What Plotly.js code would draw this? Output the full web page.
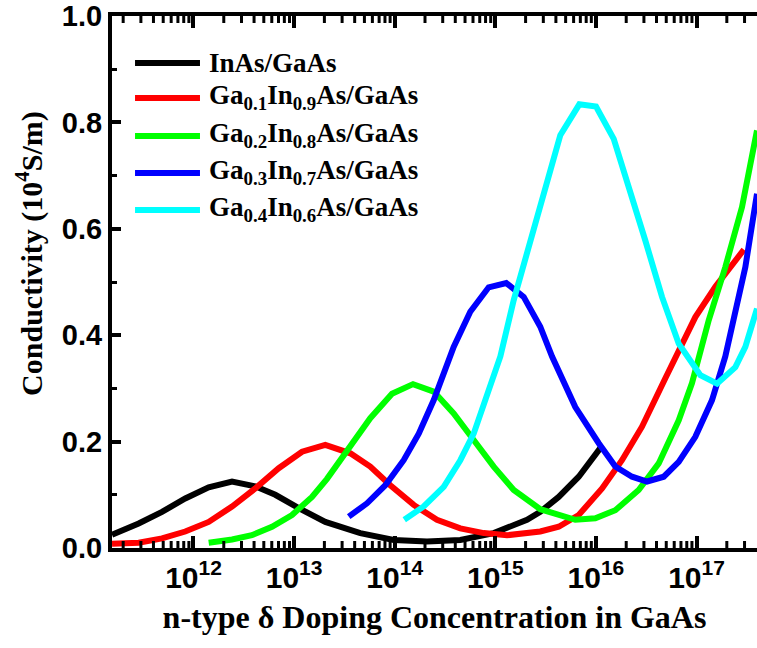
<!DOCTYPE html>
<html>
<head>
<meta charset="utf-8">
<script src="https://cdn.plot.ly/plotly-3.0.1.min.js"></script>
<style>html,body{margin:0;padding:0;background:#fff;}#chart{width:757px;height:648px;}</style>
</head>
<body>
<div id="chart"></div>
<script>
var seriesNames = [
  'InAs/GaAs',
  'Ga<sub>0.1</sub>In<sub>0.9</sub>As/GaAs',
  'Ga<sub>0.2</sub>In<sub>0.8</sub>As/GaAs',
  'Ga<sub>0.3</sub>In<sub>0.7</sub>As/GaAs',
  'Ga<sub>0.4</sub>In<sub>0.6</sub>As/GaAs'
];
var seriesColors = ['#000000', '#ff0000', '#00ff00', '#0000ff', '#00ffff'];

// Doping concentration as log10(n); conductivity in 10^4 S/m
var inasLogN = [11.19, 11.455, 11.687, 11.918, 12.151, 12.383, 12.614, 12.813, 13.046, 13.31, 13.658, 13.99, 14.321, 14.652, 14.984, 15.315, 15.447, 15.63, 15.829, 16.06];
var inasSigma = [0.025, 0.046, 0.068, 0.093, 0.114, 0.125, 0.116, 0.100, 0.075, 0.049, 0.028, 0.015, 0.012, 0.015, 0.028, 0.053, 0.068, 0.096, 0.134, 0.192];

var ga01LogN = [11.19, 11.455, 11.687, 11.918, 12.151, 12.383, 12.614, 12.847, 13.079, 13.31, 13.559, 13.757, 13.956, 14.189, 14.42, 14.652, 14.885, 15.116, 15.447, 15.63, 15.829, 16.061, 16.259, 16.458, 16.69, 16.856, 16.988, 17.187, 17.332, 17.471];
var ga01Sigma = [0.008, 0.010, 0.018, 0.031, 0.049, 0.078, 0.112, 0.150, 0.181, 0.194, 0.178, 0.153, 0.118, 0.081, 0.053, 0.037, 0.028, 0.024, 0.031, 0.040, 0.062, 0.112, 0.165, 0.228, 0.319, 0.384, 0.434, 0.491, 0.528, 0.561];

var ga02LogN = [12.151, 12.383, 12.58, 12.78, 12.979, 13.178, 13.327, 13.526, 13.757, 13.973, 14.182, 14.388, 14.586, 14.785, 14.984, 15.183, 15.447, 15.795, 15.994, 16.193, 16.425, 16.624, 16.823, 16.955, 17.121, 17.286, 17.452, 17.601];
var ga02Sigma = [0.010, 0.016, 0.024, 0.040, 0.062, 0.096, 0.130, 0.184, 0.244, 0.290, 0.308, 0.294, 0.253, 0.203, 0.153, 0.109, 0.073, 0.053, 0.056, 0.071, 0.109, 0.159, 0.240, 0.310, 0.428, 0.528, 0.641, 0.785];

var ga03LogN = [13.543, 13.725, 13.907, 14.089, 14.239, 14.388, 14.586, 14.751, 14.934, 15.109, 15.282, 15.447, 15.564, 15.795, 16.028, 16.193, 16.359, 16.508, 16.674, 16.823, 16.988, 17.154, 17.286, 17.485, 17.601];
var ga03Sigma = [0.059, 0.084, 0.118, 0.165, 0.215, 0.278, 0.378, 0.444, 0.490, 0.498, 0.472, 0.416, 0.360, 0.265, 0.197, 0.153, 0.134, 0.125, 0.134, 0.162, 0.209, 0.278, 0.360, 0.528, 0.666];

var ga04LogN = [14.095, 14.288, 14.487, 14.652, 14.785, 14.918, 15.05, 15.183, 15.454, 15.646, 15.835, 16.001, 16.177, 16.342, 16.491, 16.657, 16.823, 17.038, 17.204, 17.386, 17.485, 17.601];
var ga04Sigma = [0.053, 0.078, 0.115, 0.165, 0.215, 0.290, 0.360, 0.466, 0.650, 0.776, 0.834, 0.830, 0.769, 0.672, 0.578, 0.472, 0.384, 0.325, 0.309, 0.340, 0.378, 0.450];

var yTickVals = [0.0, 0.2, 0.4, 0.6, 0.8, 1.0];
var yTickText = ['0.0', '0.2', '0.4', '0.6', '0.8', '1.0'];
var xDecades = [11, 12, 13, 14, 15, 16, 17];
var xTickText = ['10<sup>11</sup>', '10<sup>12</sup>', '10<sup>13</sup>', '10<sup>14</sup>', '10<sup>15</sup>', '10<sup>16</sup>', '10<sup>17</sup>'];
var minorDigits = [2, 3, 4, 5, 6, 7, 8, 9];

var xRangeLog = [11.19, 17.601];
var yRange = [0, 1.0];

var allLogN = [inasLogN, ga01LogN, ga02LogN, ga03LogN, ga04LogN];
var allSigma = [inasSigma, ga01Sigma, ga02Sigma, ga03Sigma, ga04Sigma];

var traces = allLogN.map(function (lg, i) {
  return {
    type: 'scatter', mode: 'lines', name: seriesNames[i],
    x: lg.map(function (e) { return Math.pow(10, e); }),
    y: allSigma[i],
    line: { color: seriesColors[i], width: 6 },
    hoverinfo: 'skip', showlegend: false
  };
});

// x-axis minor tick marks (bottom + mirrored top), drawn through the axis scales
var majorTickVals = xDecades.map(function (d) { return Math.pow(10, d); });
var minorTickVals = [];
xDecades.forEach(function (d) {
  minorDigits.forEach(function (m) { minorTickVals.push(m * Math.pow(10, d)); });
});
function inRange(v) {
  var l = Math.log10(v);
  return l > xRangeLog[0] + 0.005 && l < xRangeLog[1] - 0.005;
}
var plotHeightPx = 648 - 16 - 100;
function tickTrace(vals, lenPx, width) {
  var len = lenPx / plotHeightPx * (yRange[1] - yRange[0]);
  var tx = [], ty = [];
  vals.filter(inRange).forEach(function (v) {
    tx.push(v, v, null, v, v, null);
    ty.push(yRange[0], yRange[0] + len, null, yRange[1], yRange[1] - len, null);
  });
  return { type: 'scatter', mode: 'lines', x: tx, y: ty, connectgaps: false,
    line: { color: '#000', width: width }, hoverinfo: 'skip', showlegend: false };
}
traces.push(tickTrace(minorTickVals, 7, 3));

var serifBold = 'Liberation Serif, Times New Roman, serif';
var sansBold = 'Liberation Sans, Arial, sans-serif';

var shapes = [];
var annotations = [];

// Legend (line samples + labels)
var legendY = [0.9117, 0.8459, 0.7744, 0.7049, 0.6353];
seriesNames.forEach(function (nm, i) {
  shapes.push({
    type: 'line', xref: 'paper', yref: 'paper',
    x0: 0.0357, x1: 0.1364, y0: legendY[i], y1: legendY[i],
    line: { color: seriesColors[i], width: 6 }
  });
  annotations.push({
    xref: 'paper', yref: 'paper', x: 0.1473, y: legendY[i],
    xanchor: 'left', yanchor: 'middle', showarrow: false,
    text: nm, yshift: i === 0 ? 0 : 1,
    font: { family: serifBold, size: 27, color: '#000', weight: 'bold' }
  });
});
// y-axis title
annotations.push({
  xref: 'paper', yref: 'paper', x: -0.127, y: 0.553,
  xanchor: 'center', yanchor: 'middle', showarrow: false, textangle: -90,
  text: 'Conductivity (10<sup>4</sup>S/m)',
  font: { family: serifBold, size: 30, color: '#000', weight: 'bold' }
});

var layout = {
  width: 757, height: 648,
  margin: { l: 112, r: 0, t: 16, b: 100, pad: 0 },
  paper_bgcolor: '#fff', plot_bgcolor: '#fff',
  showlegend: false,
  shapes: shapes,
  annotations: annotations,
  xaxis: {
    type: 'log', range: xRangeLog,
    tickvals: majorTickVals, ticktext: xTickText,
    showgrid: false, zeroline: false,
    showline: true, linecolor: '#000', linewidth: 4,
    mirror: 'allticks',
    ticks: 'inside', ticklen: 12, tickwidth: 4, tickcolor: '#000',
    tickfont: { family: sansBold, size: 30, color: '#000', weight: 'bold' },
    title: { text: 'n-type \u03b4 Doping Concentration in GaAs', font: { family: serifBold, size: 32, color: '#000', weight: 'bold' }, standoff: 14 }
  },
  yaxis: {
    range: yRange, tickvals: yTickVals, ticktext: yTickText,
    showgrid: false, zeroline: false,
    showline: true, linecolor: '#000', linewidth: 4, mirror: false,
    ticks: 'inside', ticklen: 9, tickwidth: 4, tickcolor: '#000',
    tickfont: { family: sansBold, size: 29, color: '#000', weight: 'bold' },
    minor: { ticks: 'inside', ticklen: 5, tickwidth: 3, tickcolor: '#000', dtick: 0.1, showgrid: false }
  }
};

Plotly.newPlot('chart', traces, layout, { displayModeBar: false, staticPlot: true });
</script>
</body>
</html>
